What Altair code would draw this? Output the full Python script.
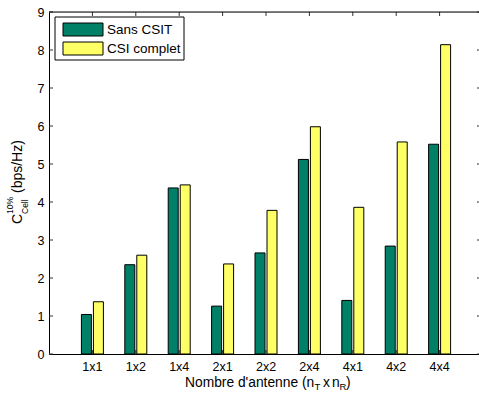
import altair as alt
import pandas as pd

categories = ["1x1", "1x2", "1x4", "2x1", "2x2", "2x4", "4x1", "4x2", "4x4"]
series_names = ["Sans CSIT", "CSI complet"]
sans_csit = [1.04, 2.35, 4.37, 1.26, 2.66, 5.12, 1.41, 2.84, 5.52]
csi_complet = [1.375, 2.60, 4.45, 2.37, 3.78, 5.98, 3.86, 5.58, 8.14]
y_ticks = list(range(10))
colors = ["#008066", "#FFFF66"]

rows = []
for c, a, b in zip(categories, sans_csit, csi_complet):
    rows.append({"cat": c, "series": series_names[0], "value": a})
    rows.append({"cat": c, "series": series_names[1], "value": b})
df = pd.DataFrame(rows)

W, H = 430, 342
FONT = "Liberation Sans"

xscale = alt.Scale(domain=categories, paddingInner=0.4931, paddingOuter=0.7005, align=0.533)
yscale = alt.Scale(domain=[0, 9], nice=False, zero=True)

x_axis = alt.Axis(ticks=False, labelAngle=0, labelPadding=6, title=None, grid=False,
                  domainColor="black", labelColor="black", labelFont=FONT, labelFontSize=12.5)
y_axis = alt.Axis(values=y_ticks, ticks=False, labelPadding=5, title=None, grid=False,
                  domainColor="black", labelColor="black", labelFont=FONT, labelFontSize=12.5)

X = alt.X("cat:N", scale=xscale, sort=categories, axis=x_axis)

bars = alt.Chart(df).mark_bar(stroke="black", strokeWidth=1).encode(
    x=X,
    xOffset=alt.XOffset("series:N", sort=series_names,
                        scale=alt.Scale(domain=series_names, paddingInner=1 / 6, paddingOuter=0)),
    y=alt.Y("value:Q", scale=yscale, axis=y_axis),
    color=alt.Color("series:N", scale=alt.Scale(domain=series_names, range=colors), legend=None),
)

ytick_df = pd.DataFrame({"value": y_ticks})
cat_df = pd.DataFrame({"cat": categories})
TICK = "#333333"

left_ticks = alt.Chart(ytick_df).mark_rule(color=TICK, strokeWidth=1).encode(
    y=alt.Y("value:Q", scale=yscale, axis=y_axis), x=alt.value(0), x2=alt.value(4))
right_ticks = alt.Chart(ytick_df).mark_rule(color=TICK, strokeWidth=1).encode(
    y=alt.Y("value:Q", scale=yscale, axis=y_axis), x=alt.value(W - 2), x2=alt.value(W))
top_ticks = alt.Chart(cat_df).mark_rule(color=TICK, strokeWidth=1).encode(
    x=X, y=alt.value(0), y2=alt.value(4))
bottom_ticks = alt.Chart(cat_df).mark_rule(color=TICK, strokeWidth=1).encode(
    x=X, y=alt.value(H - 4), y2=alt.value(H))

one = alt.Data(values=[{"k": 0}])

top_line = alt.Chart(one).mark_rule(color="black", strokeWidth=1).encode(
    x=alt.value(0), x2=alt.value(W), y=alt.value(0))


def txt(s, x, y, size, angle=0):
    return alt.Chart(one).mark_text(text=s, font=FONT, fontSize=size, align="left",
                                    baseline="middle", angle=angle, color="black").encode(
        x=alt.value(x), y=alt.value(y))


# legend
legend_box = alt.Chart(one).mark_rect(fill="white", stroke="black", strokeWidth=1).encode(
    x=alt.value(6), x2=alt.value(135), y=alt.value(5), y2=alt.value(48))
sw1 = alt.Chart(one).mark_rect(fill=colors[0], stroke="black", strokeWidth=1).encode(
    x=alt.value(14), x2=alt.value(54), y=alt.value(11), y2=alt.value(24))
sw2 = alt.Chart(one).mark_rect(fill=colors[1], stroke="black", strokeWidth=1).encode(
    x=alt.value(14), x2=alt.value(54), y=alt.value(30), y2=alt.value(43))
lt1 = txt(series_names[0], 58, 17.5, 13.5)
lt2 = txt(series_names[1], 58, 36.5, 13.5)

# x title with subscripts
xt_main = txt("Nombre d'antenne (n", 136, 371, 13.8)
xt_T = txt("T", 265.5, 375, 9.5)
xt_x = txt("x", 274, 371, 13.8)
xt_n = txt("n", 283, 371, 13.8)
xt_R = txt("R", 290.5, 375, 9.5)
xt_close = txt(")", 297, 371, 13.8)

# y title with super/subscript (rotated)
yt_C = txt("C", -31, 212, 14, angle=270)
yt_sup = txt("10%", -39.5, 202, 8.5, angle=270)
yt_sub = txt("Cell", -24.5, 202, 8.5, angle=270)
yt_rest = txt("(bps/Hz)", -31, 181, 14, angle=270)

chart = alt.layer(
    bottom_ticks, bars, left_ticks, right_ticks, top_ticks, top_line,
    legend_box, sw1, sw2, lt1, lt2,
    xt_main, xt_T, xt_x, xt_n, xt_R, xt_close,
    yt_C, yt_sup, yt_sub, yt_rest,
).properties(
    width=W, height=H,
    padding={"left": 49, "top": 12, "right": 0, "bottom": 40},
    autosize=alt.AutoSizeParams(type="none"),
).configure_view(stroke=None).configure(background="white")

chart.save("out.html", embed_options={"renderer": "svg", "actions": False})
